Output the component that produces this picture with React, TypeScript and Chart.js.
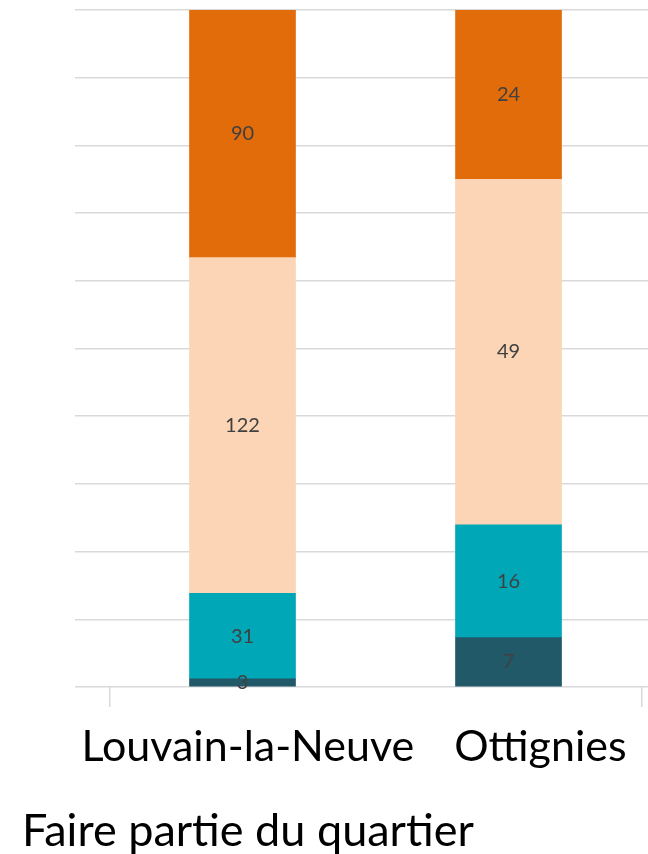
import React, { useEffect, useRef } from 'react';
import { Chart, registerables } from 'chart.js';

Chart.register(...registerables);

const categories = ['Louvain-la-Neuve', 'Ottignies'];
const categoryPositions = [1, 2];
const labelNudges = [0.02, 0.12];
const seriesNames = ['Série 1', 'Série 2', 'Série 3', 'Série 4'];
const series1 = [3, 7];
const series2 = [31, 16];
const series3 = [122, 49];
const series4 = [90, 24];
const seriesColors = ['#215968', '#00A8B7', '#FBD5B5', '#E36C0A'];
const axisTitle = 'Faire partie du quartier';
const groupEdges = [0.5, 2.5];

const FONT = 'Lato';

const labelPlugin = {
  id: 'segLabels',
  afterDatasetsDraw(chart: any) {
    const ctx = chart.ctx;
    ctx.save();
    ctx.font = `20px ${FONT}`;
    ctx.fillStyle = '#404040';
    ctx.textAlign = 'center';
    ctx.textBaseline = 'middle';
    chart.data.datasets.forEach((ds: any, di: number) => {
      const meta = chart.getDatasetMeta(di);
      meta.data.forEach((el: any, i: number) => {
        const p = el.getProps(['x', 'y', 'base'], true);
        ctx.fillText(String(ds.counts[i]), p.x, (p.y + p.base) / 2);
      });
    });
    ctx.restore();
  },
};

export default function App() {
  const ref = useRef<HTMLCanvasElement>(null);

  useEffect(() => {
    if (!ref.current) return;
    const all = [series1, series2, series3, series4];
    const totals = categories.map((_, i) => all.reduce((s, arr) => s + arr[i], 0));
    const labelValues = categoryPositions.map((p, i) => p + labelNudges[i]);
    const datasets = all.map((arr, k) => ({
      label: seriesNames[k],
      counts: arr,
      data: arr.map((v, i) => ({ x: categoryPositions[i], y: (v / totals[i]) * 100 })),
      backgroundColor: seriesColors[k],
      borderWidth: 0,
      barThickness: 106,
    }));

    const chart = new Chart(ref.current, {
      type: 'bar',
      data: { datasets: datasets as any },
      plugins: [labelPlugin],
      options: {
        animation: false,
        responsive: false,
        layout: { padding: { left: 22, right: 0, top: 10, bottom: 0 } },
        plugins: {
          legend: { display: false },
          tooltip: { enabled: false },
          title: {
            display: true,
            text: axisTitle,
            position: 'bottom',
            align: 'start',
            color: '#000000',
            font: { family: FONT, size: 45, weight: 'normal', lineHeight: 1.0 },
            padding: { top: 10, bottom: 0 },
          },
        },
        scales: {
          x: {
            type: 'linear',
            min: 0.3703,
            max: 2.5244,
            offset: false,
            stacked: true,
            border: { display: false },
            grid: {
              offset: false,
              drawOnChartArea: false,
              drawTicks: true,
              tickLength: 20,
              lineWidth: 1.5,
              color: (c: any) =>
                c.tick && groupEdges.includes(c.tick.value) ? '#d9d9d9' : 'rgba(0,0,0,0)',
            },
            afterBuildTicks: (scale: any) => {
              scale.ticks = [groupEdges[0], ...labelValues, groupEdges[1]].map((v) => ({ value: v }));
            },
            afterFit: (scale: any) => {
              scale.height = 854 - 687 - 55;
            },
            ticks: {
              autoSkip: false,
              maxRotation: 0,
              minRotation: 0,
              padding: 0,
              color: '#000000',
              font: { family: FONT, size: 43, lineHeight: 1.88 },
              callback: (v: any) => {
                const idx = labelValues.indexOf(Number(v));
                return idx >= 0 ? categories[idx] : '';
              },
            },
          },
          y: {
            stacked: true,
            min: 0,
            max: 100,
            border: { display: false },
            grid: { color: '#d9d9d9', lineWidth: 1.5, drawTicks: false },
            ticks: { display: false, stepSize: 10 },
            afterFit: (scale: any) => {
              scale.width = 53;
            },
          },
        },
      },
    });
    return () => chart.destroy();
  }, []);

  return (
    <div style={{ position: 'absolute', left: 0, top: 0, width: 648, height: 854, background: '#ffffff' }}>
      <canvas ref={ref} width={648} height={854} style={{ display: 'block' }} />
    </div>
  );
}
